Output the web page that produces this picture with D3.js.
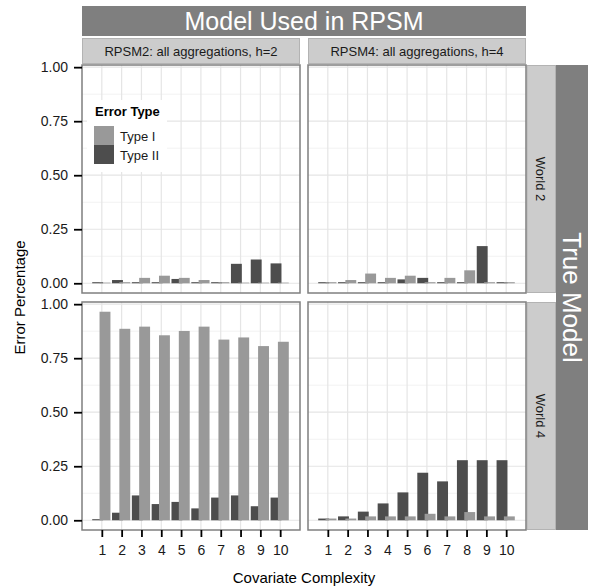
<!DOCTYPE html>
<html>
<head>
<meta charset="utf-8">
<script src="https://cdn.jsdelivr.net/npm/d3@7"></script>
<style>
  body { margin: 0; background: #fff; }
  text { font-family: "Liberation Sans", Arial, sans-serif; }
</style>
</head>
<body>
<div id="chart"></div>
<script>
// categories
const complexity = [1, 2, 3, 4, 5, 6, 7, 8, 9, 10];
const errorTypes = ["Type I", "Type II"];
const models = ["RPSM2: all aggregations, h=2", "RPSM4: all aggregations, h=4"];
const worlds = ["World 2", "World 4"];
const yTicks = [0, 0.25, 0.5, 0.75, 1];
const yMinor = [0.125, 0.375, 0.625, 0.875];

// World 2 (top row)
const w2m2TypeI  = [0.003, 0.005, 0.025, 0.035, 0.025, 0.015, 0.005, 0.003, 0.003, 0.003];
const w2m2TypeII = [0.005, 0.015, 0.005, 0.005, 0.02, 0.005, 0.005, 0.09, 0.11, 0.092];
const w2m4TypeI  = [0.005, 0.015, 0.045, 0.025, 0.035, 0.005, 0.025, 0.06, 0.005, 0.005];
const w2m4TypeII = [0.005, 0.005, 0.005, 0.005, 0.018, 0.025, 0.005, 0.005, 0.172, 0.005];
// World 4 (bottom row)
const w4m2TypeI  = [0.965, 0.886, 0.896, 0.856, 0.876, 0.896, 0.836, 0.846, 0.806, 0.826];
const w4m2TypeII = [0.005, 0.035, 0.115, 0.075, 0.085, 0.055, 0.105, 0.115, 0.065, 0.105];
const w4m4TypeI  = [0.008, 0.008, 0.018, 0.018, 0.018, 0.03, 0.018, 0.038, 0.018, 0.018];
const w4m4TypeII = [0.008, 0.018, 0.04, 0.078, 0.129, 0.22, 0.18, 0.278, 0.278, 0.278];

const panelValues = [
  [[w2m2TypeI, w2m2TypeII], [w2m4TypeI, w2m4TypeII]],
  [[w4m2TypeI, w4m2TypeII], [w4m4TypeI, w4m4TypeII]]
];

const fills = {"Type I": "#999999", "Type II": "#4d4d4d"};
// dodge offsets (in x units) -- Type II sits left, Type I on top to the right
const offsets = {"Type I": 0.16, "Type II": -0.21};
const barW = 0.55;

const W = 593, H = 588;
const colX = [82, 308];
const rowY = [65, 302];
const pw = 218, ph = 228;

const svg = d3.select("#chart").append("svg")
    .attr("width", W)
    .attr("height", H);

const x = d3.scaleLinear().domain([0, 11]).range([0, pw]);
const y = d3.scaleLinear().domain([-0.045, 1.01]).range([ph, 0]);

// top outer strip
svg.append("rect")
   .attr("x", 82).attr("y", 6).attr("width", 526 - 82).attr("height", 30)
   .attr("fill", "#7f7f7f");
svg.append("text")
   .attr("x", (82 + 526) / 2).attr("y", 21)
   .attr("dy", "0.36em")
   .attr("text-anchor", "middle")
   .attr("fill", "#fff")
   .attr("font-size", 25)
   .text("Model Used in RPSM");

// right outer strip
svg.append("rect")
   .attr("x", 556).attr("y", 65).attr("width", 32).attr("height", 530 - 65)
   .attr("fill", "#7f7f7f");
svg.append("text")
   .attr("transform", `translate(572,${(65 + 530) / 2}) rotate(90)`)
   .attr("dy", "0.36em")
   .attr("text-anchor", "middle")
   .attr("fill", "#fff")
   .attr("font-size", 26)
   .text("True Model");

// inner top strips
models.forEach((m, c) => {
  svg.append("rect")
     .attr("x", colX[c] + 0.5).attr("y", 38.5).attr("width", pw - 1).attr("height", 25)
     .attr("fill", "#cccccc").attr("stroke", "#b3b3b3");
  svg.append("text")
     .attr("x", colX[c] + pw / 2).attr("y", 51)
     .attr("dy", "0.36em")
     .attr("text-anchor", "middle")
     .attr("fill", "#1a1a1a")
     .attr("font-size", 13)
     .text(m);
});

// inner right strips
worlds.forEach((w, r) => {
  svg.append("rect")
     .attr("x", 527).attr("y", rowY[r] + 0.5).attr("width", 28.5).attr("height", ph - 1)
     .attr("fill", "#cccccc").attr("stroke", "#b3b3b3");
  svg.append("text")
     .attr("transform", `translate(541,${rowY[r] + ph / 2}) rotate(90)`)
     .attr("dy", "0.36em")
     .attr("text-anchor", "middle")
     .attr("fill", "#1a1a1a")
     .attr("font-size", 13)
     .text(w);
});

worlds.forEach((w, r) => {
  models.forEach((m, c) => {
    const g = svg.append("g")
        .attr("transform", `translate(${colX[c]},${rowY[r]})`);

    g.append("rect")
     .attr("width", pw).attr("height", ph)
     .attr("fill", "#fff");

    // grid
    g.selectAll(".minor")
     .data(yMinor)
     .join("line")
     .attr("x1", 0).attr("x2", pw)
     .attr("y1", d => y(d)).attr("y2", d => y(d))
     .attr("stroke", "#f2f2f2").attr("stroke-width", 1);
    g.selectAll(".majorY")
     .data(yTicks)
     .join("line")
     .attr("x1", 0).attr("x2", pw)
     .attr("y1", d => y(d)).attr("y2", d => y(d))
     .attr("stroke", "#e5e5e5").attr("stroke-width", 1.2);
    g.selectAll(".majorX")
     .data(complexity)
     .join("line")
     .attr("x1", d => x(d)).attr("x2", d => x(d))
     .attr("y1", 0).attr("y2", ph)
     .attr("stroke", "#e5e5e5").attr("stroke-width", 1.2);

    // bars: Type II first, then Type I on top
    ["Type II", "Type I"].forEach(t => {
      const vals = panelValues[r][c][errorTypes.indexOf(t)];
      g.append("g")
       .attr("fill", fills[t])
       .selectAll("rect")
       .data(vals)
       .join("rect")
       .attr("x", (d, i) => x(complexity[i] + offsets[t] - barW / 2))
       .attr("width", x(barW) - x(0))
       .attr("y", d => y(d))
       .attr("height", d => y(0) - y(d));
    });

    g.append("rect")
     .attr("width", pw).attr("height", ph)
     .attr("fill", "none")
     .attr("stroke", "#7f7f7f")
     .attr("stroke-width", 1.5);

    if (c === 0) {
      const ax = g.append("g")
          .call(d3.axisLeft(y).tickValues(yTicks).tickFormat(d3.format(".2f")).tickSize(8).tickPadding(6));
      ax.select(".domain").remove();
      ax.selectAll("line").attr("stroke", "#000").attr("stroke-width", 1.8);
      ax.selectAll("text").attr("font-size", 14).attr("fill", "#1a1a1a");
    }
    if (r === 1) {
      const ax = g.append("g")
          .attr("transform", `translate(0,${ph})`)
          .call(d3.axisBottom(x).tickValues(complexity).tickSize(7).tickPadding(8));
      ax.select(".domain").remove();
      ax.selectAll("line").attr("stroke", "#000").attr("stroke-width", 1.8);
      ax.selectAll("text").attr("font-size", 14).attr("fill", "#1a1a1a");
    }
  });
});

// legend inside top-left panel
const lg = svg.append("g");
lg.append("rect")
  .attr("x", 87).attr("y", 100).attr("width", 80).attr("height", 72)
  .attr("fill", "#fff");
lg.append("text")
  .attr("x", 95).attr("y", 111)
  .attr("dy", "0.36em")
  .attr("font-size", 13)
  .attr("font-weight", "bold")
  .text("Error Type");
errorTypes.forEach((t, i) => {
  lg.append("rect")
    .attr("x", 94).attr("y", 126 + i * 19).attr("width", 20).attr("height", 19)
    .attr("fill", fills[t]);
  lg.append("text")
    .attr("x", 120).attr("y", 136 + i * 19)
    .attr("dy", "0.36em")
    .attr("font-size", 13)
    .attr("fill", "#1a1a1a")
    .text(t);
});

// axis titles
svg.append("text")
   .attr("x", (82 + 526) / 2).attr("y", 578)
   .attr("dy", "0.36em")
   .attr("text-anchor", "middle")
   .attr("font-size", 15)
   .text("Covariate Complexity");
svg.append("text")
   .attr("transform", `translate(20,${(65 + 530) / 2}) rotate(-90)`)
   .attr("dy", "0.36em")
   .attr("text-anchor", "middle")
   .attr("font-size", 15)
   .text("Error Percentage");
</script>
</body>
</html>
